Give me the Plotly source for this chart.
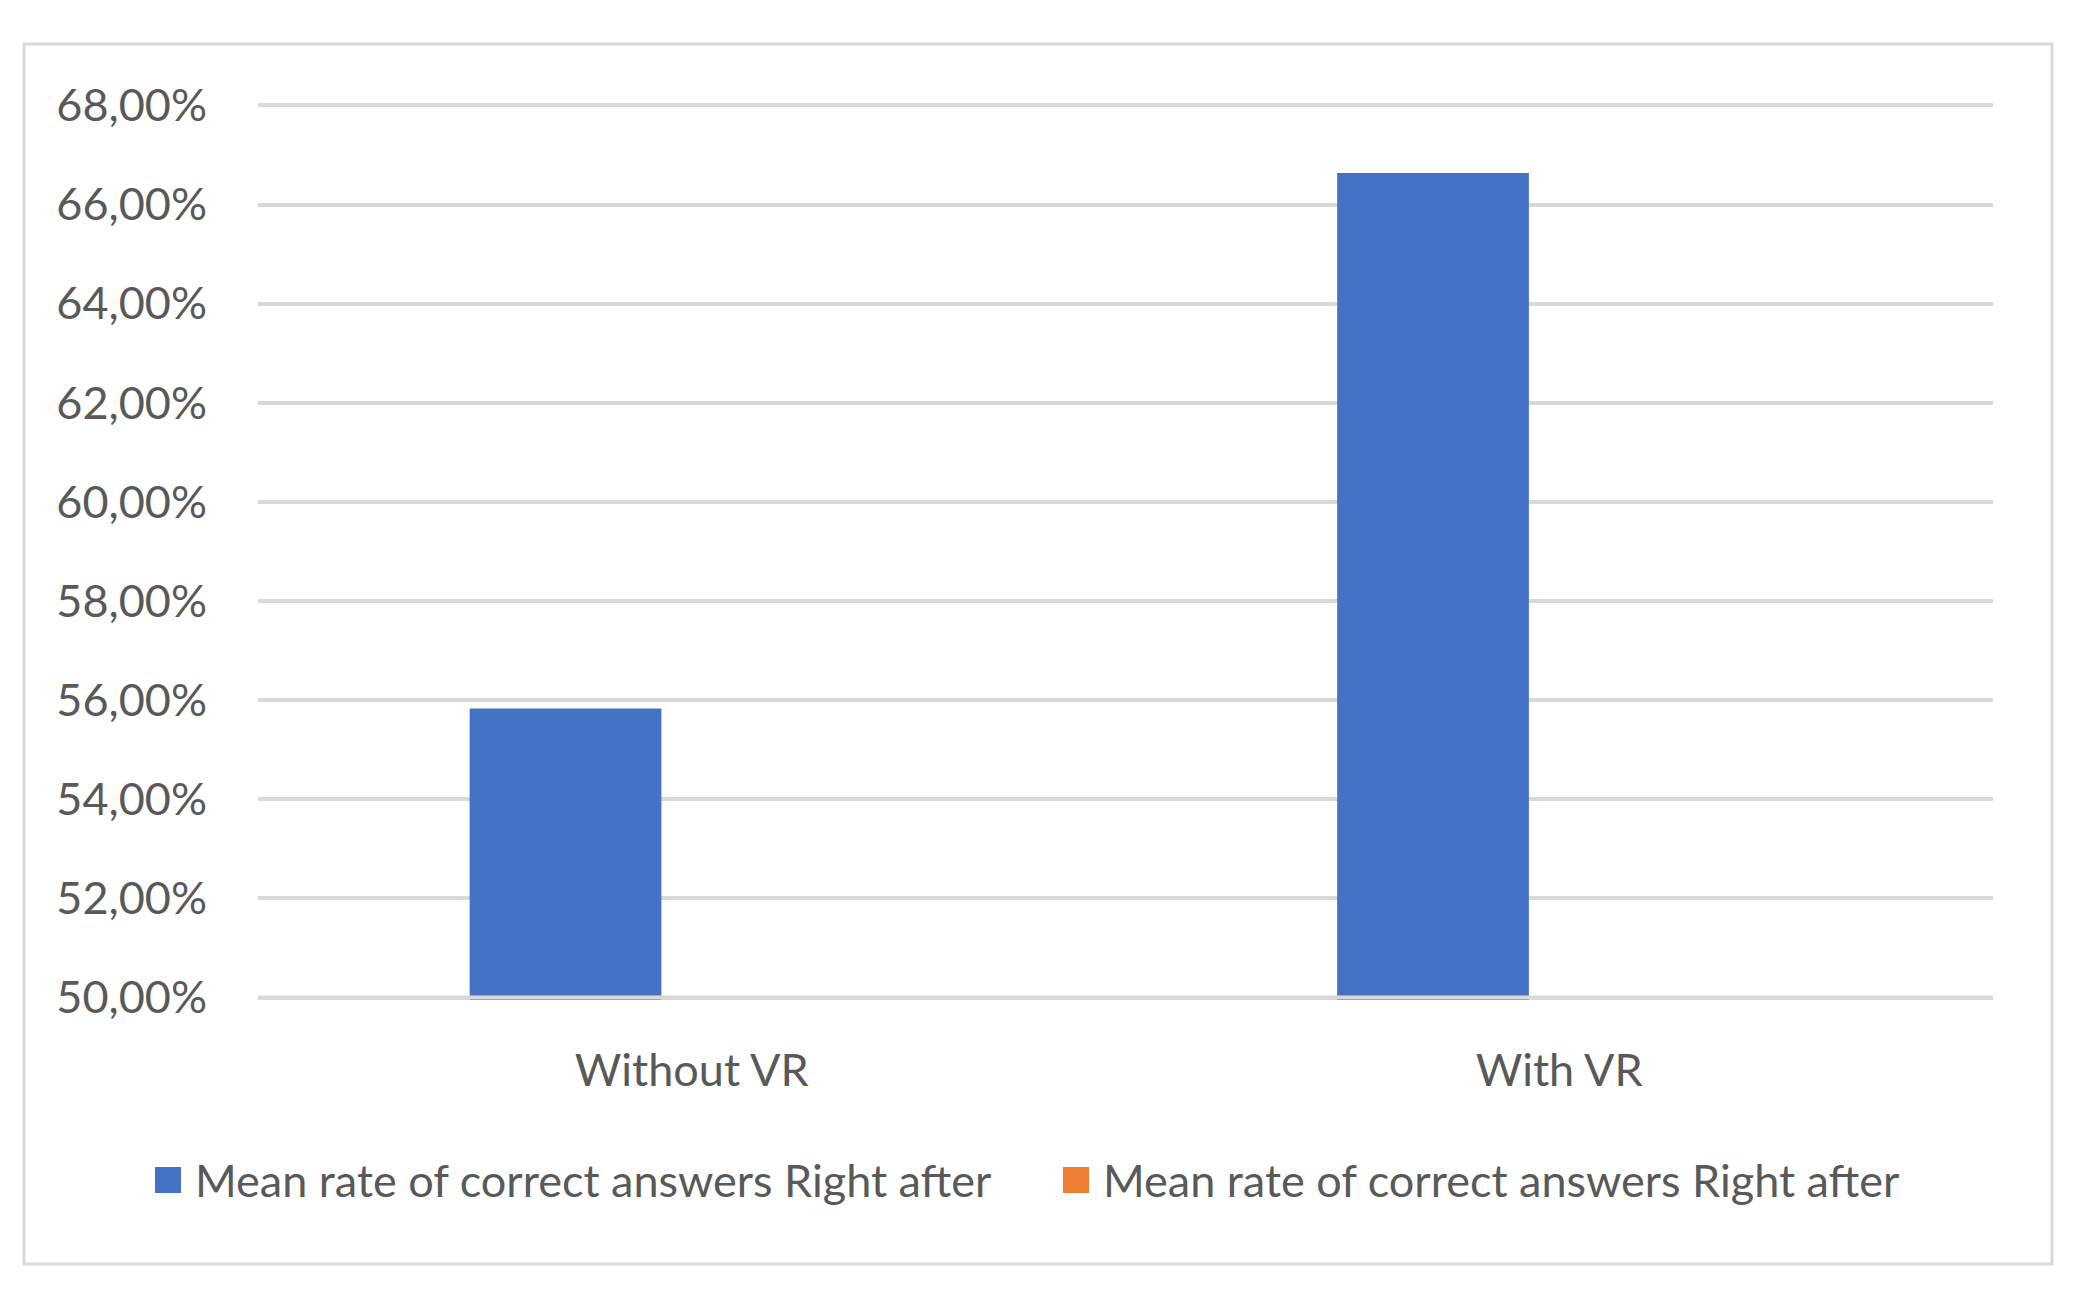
import plotly.graph_objects as go

categories = ["Without VR", "With VR"]
series_names = ["Mean rate of correct answers Right after",
                "Mean rate of correct answers Right after"]
series_a = [0.5583, 0.6664]
series_b = [None, None]
series_colors = ["#4472C4", "#ED7D31"]
y_ticks = [0.50, 0.52, 0.54, 0.56, 0.58, 0.60, 0.62, 0.64, 0.66, 0.68]
y_tick_labels = ["50,00%", "52,00%", "54,00%", "56,00%", "58,00%",
                 "60,00%", "62,00%", "64,00%", "66,00%", "68,00%"]

OFF = 8  # page body margin
W, H = 2060, 1290
# target coordinates (in screenshot pixels)
PL, PR, PT, PB = 258, 1993, 103, 1000
L, T = PL - OFF, PT - OFF
R = W - (PR - OFF)
B = H - (PB - OFF)
PW, PH = W - L - R, H - T - B

def px(x):
    return (x - OFF - L) / PW

def py(y):
    return (H - B - (y - OFF)) / PH

FONT = "Lato"
GREY = "#595959"
GRID = "#D9D9D9"

fig = go.Figure()
fig.add_trace(go.Bar(x=categories, y=series_a, name=series_names[0],
                     marker=dict(color=series_colors[0], line=dict(width=0)),
                     width=0.221, offset=-0.256, showlegend=False))
fig.add_trace(go.Bar(x=categories, y=series_b, name=series_names[1],
                     marker=dict(color=series_colors[1], line=dict(width=0)),
                     width=0.221, offset=0.035, showlegend=False))

shapes = [
    dict(type="rect", xref="paper", yref="paper",
         x0=px(24), x1=px(2052), y0=py(1264), y1=py(44),
         line=dict(color=GRID, width=3), fillcolor="rgba(0,0,0,0)",
         layer="below"),
    # baseline gridline drawn above bars, as in the original
    dict(type="line", xref="paper", yref="y", x0=0, x1=1,
         y0=y_ticks[0], y1=y_ticks[0], line=dict(color=GRID, width=4),
         layer="above"),
]
annotations = []
legend_items = [(155, 193), (1063, 1101)]
for (sx, tx), name, col in zip(legend_items, series_names, series_colors):
    shapes.append(dict(type="rect", xref="paper", yref="paper",
                       x0=px(sx), x1=px(sx + 26), y0=py(1193), y1=py(1167),
                       line=dict(width=0), fillcolor=col))
    annotations.append(dict(xref="paper", yref="paper", x=px(tx), y=py(1180),
                            text=name, showarrow=False, xanchor="left",
                            yanchor="middle",
                            font=dict(family=FONT, size=45, color=GREY)))

fig.update_layout(
    width=W, height=H,
    margin=dict(l=L, r=R, t=T, b=B, pad=0),
    paper_bgcolor="white", plot_bgcolor="white",
    barmode="group",
    font=dict(family=FONT, size=45, color=GREY),
    shapes=shapes, annotations=annotations,
    xaxis=dict(showgrid=False, zeroline=False, showline=False,
               ticks="outside", ticklen=31, tickcolor="rgba(0,0,0,0)",
               tickfont=dict(family=FONT, size=45, color=GREY)),
    yaxis=dict(range=[0.4995, 0.6805], tickvals=y_ticks, ticktext=y_tick_labels,
               showgrid=True, gridcolor=GRID, gridwidth=4,
               zeroline=False, showline=False,
               ticks="outside", ticklen=41, tickcolor="rgba(0,0,0,0)",
               tickfont=dict(family=FONT, size=45, color=GREY)),
)

fig.write_html("out.html")
